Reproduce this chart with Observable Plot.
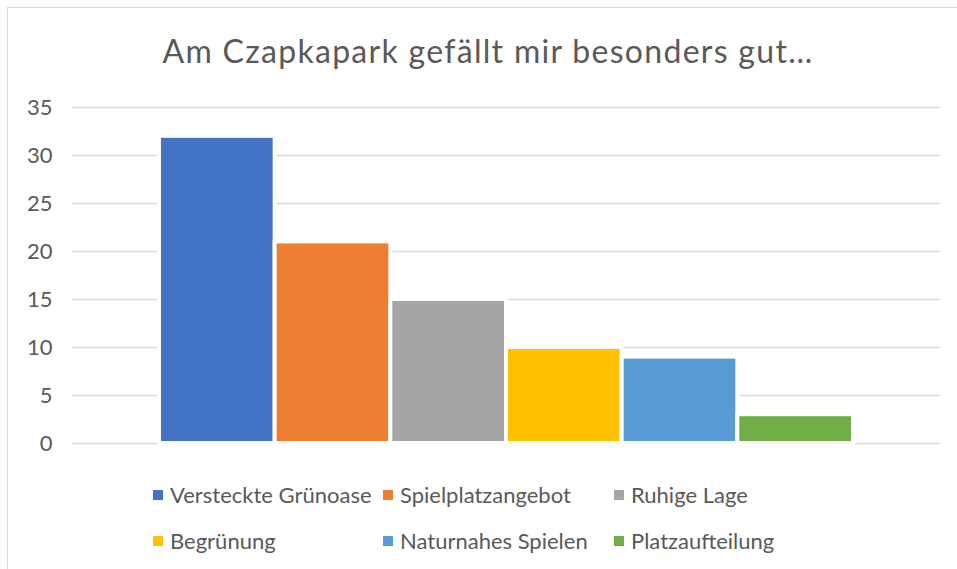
<!DOCTYPE html>
<html>
<head>
<meta charset="utf-8">
<script src="https://cdn.jsdelivr.net/npm/d3@7"></script>
<script src="https://cdn.jsdelivr.net/npm/@observablehq/plot@0.6"></script>
<style>
  html, body { margin: 0; padding: 0; background: #fff; }
  #wrap { position: relative; width: 957px; height: 569px; overflow: hidden; background: #fff; font-family: Lato, "Open Sans", sans-serif; color: #595959; }
  #frame { position: absolute; left: 7px; top: 7px; width: 1100px; height: 1100px; border: 1.5px solid #d9d9d9; box-sizing: border-box; }
  #title { position: absolute; left: 0; width: 976px; top: 35px; text-align: center; font-size: 32px; line-height: 32px; letter-spacing: 1.3px; white-space: nowrap; }
  #chart { position: absolute; left: 0; top: 0; }
  .leg { position: absolute; font-size: 22px; line-height: 22px; white-space: nowrap; }
  .leg .sw { position: absolute; left: 0; top: 6px; width: 10px; height: 10px; }
  .leg .lbl { position: absolute; left: 17px; top: 0; }
</style>
</head>
<body>
<div id="wrap">
  <div id="frame"></div>
  <div id="title">Am Czapkapark gefällt mir besonders gut…</div>
  <div id="chart"></div>
  <div id="legend"></div>
</div>
<script>
const categories = ["Versteckte Grünoase", "Spielplatzangebot", "Ruhige Lage", "Begrünung", "Naturnahes Spielen", "Platzaufteilung"];
const values = [32, 21, 15, 10, 9, 3];
const colors = ["#4472C4", "#ED7D31", "#A5A5A5", "#FFC000", "#5B9BD5", "#70AD47"];
const yTicks = [0, 5, 10, 15, 20, 25, 30, 35];

const data = categories.map((c, i) => ({category: c, value: values[i]}));

const chart = Plot.plot({
  width: 957,
  height: 460,
  marginTop: 107,
  marginBottom: 17,
  marginLeft: 72,
  marginRight: 17,
  style: {fontFamily: "Lato, 'Open Sans', sans-serif", background: "transparent"},
  x: {domain: categories, axis: null, paddingInner: 0, paddingOuter: 0.752, round: false},
  y: {domain: [0, 35], ticks: yTicks, label: null},
  color: {domain: categories, range: colors},
  marks: [
    Plot.ruleY(yTicks, {stroke: "#d9d9d9", strokeWidth: 1.5, strokeOpacity: 1}),
    Plot.barY(data, {x: "category", y: "value", fill: "category", stroke: "white", strokeWidth: 4}),
    Plot.axisY({ticks: yTicks, tickSize: 0, tickPadding: 20, fontSize: 22, fill: "#595959", label: null})
  ]
});
document.getElementById("chart").appendChild(chart);

// legend: two rows of three
const legend = document.getElementById("legend");
const colX = [153, 383, 614];
const rowY = [484, 530];
categories.forEach((c, i) => {
  const item = document.createElement("div");
  item.className = "leg";
  item.style.left = colX[i % 3] + "px";
  item.style.top = rowY[Math.floor(i / 3)] + "px";
  const sw = document.createElement("span");
  sw.className = "sw";
  sw.style.background = colors[i];
  const lbl = document.createElement("span");
  lbl.className = "lbl";
  lbl.textContent = c;
  item.appendChild(sw);
  item.appendChild(lbl);
  legend.appendChild(item);
});
</script>
</body>
</html>
